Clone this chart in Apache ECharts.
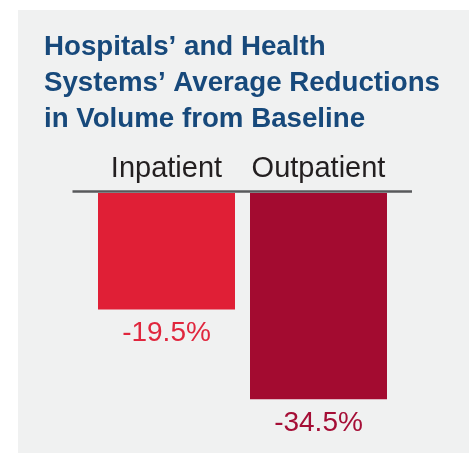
<!DOCTYPE html>
<html>
<head>
<meta charset="utf-8">
<script src="https://cdn.jsdelivr.net/npm/echarts@6/dist/echarts.min.js"></script>
<style>
  html, body { margin: 0; padding: 0; background: #ffffff; }
  #chart { width: 469px; height: 453px; }
</style>
</head>
<body>
<div id="chart"></div>
<script>
const titleLines = ["Hospitals\u2019 and Health", "Systems\u2019 Average Reductions", "in Volume from Baseline"];
const categories = ["Inpatient", "Outpatient"];
const values = [-19.5, -34.5];
const barColors = ["#e01f36", "#a30b30"];
const labelColors = ["#e0263d", "#a50e36"];

const chart = echarts.init(document.getElementById('chart'), null, { renderer: 'canvas' });

chart.setOption({
  backgroundColor: '#ffffff',
  animation: false,
  graphic: [
    { type: 'rect', z: -10, shape: { x: 18, y: 10, width: 451, height: 443 }, style: { fill: '#f0f1f1' } },
    { type: 'line', z: 10, shape: { x1: 72.5, y1: 191.5, x2: 412, y2: 191.5 }, style: { stroke: '#58595b', lineWidth: 2.5 } }
  ],
  title: {
    text: titleLines.join('\n'),
    left: 44,
    top: 29,
    padding: 0,
    textStyle: {
      fontFamily: 'Liberation Sans',
      fontWeight: 'bold',
      fontSize: 27.7,
      lineHeight: 36,
      color: '#17497b'
    }
  },
  grid: { left: 90.5, right: 74.5, top: 193, height: 239 },
  xAxis: {
    type: 'category',
    position: 'top',
    data: categories,
    axisLine: { show: false },
    axisTick: { show: false },
    axisLabel: {
      interval: 0,
      hideOverlap: false,
      margin: 10,
      fontFamily: 'Liberation Sans',
      fontSize: 29,
      color: '#231f20'
    }
  },
  yAxis: {
    type: 'value',
    min: -40,
    max: 0,
    show: false,
    splitLine: { show: false }
  },
  series: [{
    type: 'bar',
    barWidth: 137,
    data: values.map((v, i) => ({
      value: v,
      itemStyle: { color: barColors[i] },
      label: { color: labelColors[i] }
    })),
    label: {
      show: true,
      position: 'bottom',
      distance: 10,
      fontFamily: 'Liberation Sans',
      fontSize: 28,
      formatter: p => p.value.toFixed(1) + '%'
    }
  }]
});
</script>
</body>
</html>
